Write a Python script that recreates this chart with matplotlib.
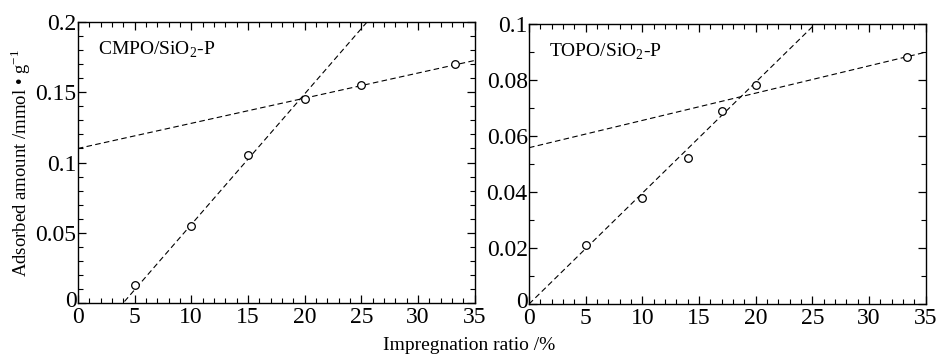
import numpy as np
import matplotlib
matplotlib.use('Agg')
import matplotlib.pyplot as plt
import matplotlib.transforms as mtrans
from matplotlib.ticker import MultipleLocator

plt.rcParams['font.family'] = ['Liberation Serif', 'DejaVu Serif']
plt.rcParams['mathtext.fontset'] = 'custom'
plt.rcParams['mathtext.rm'] = 'Liberation Serif'

# CMPO/SiO2-P data
cmpo_x = [5, 10, 15, 20, 25, 33.3]
cmpo_y = [0.013, 0.055, 0.105, 0.145, 0.155, 0.170]
# fitted lines (slope, intercept)
cmpo_lines = [(0.0093, -0.0372), (0.00179, 0.110)]

# TOPO/SiO2-P data
topo_x = [5, 10, 14, 17, 20, 33.3]
topo_y = [0.021, 0.038, 0.052, 0.069, 0.078, 0.088]
topo_lines = [(0.00396, 0.0), (0.000974, 0.0558)]

panels = [
    ("CMPO/SiO$_2$-P", cmpo_x, cmpo_y, cmpo_lines, 0.2, 0.05, 0.01, ['0', '0.05', '0.1', '0.15', '0.2']),
    ("TOPO/SiO$_2$-P", topo_x, topo_y, topo_lines, 0.1, 0.02, 0.01, ['0', '0.02', '0.04', '0.06', '0.08', '0.1']),
]

fig = plt.figure(figsize=(9.38, 3.56), dpi=100)
rects = [[0.083, 0.149, 0.423, 0.789], [0.564, 0.146, 0.423, 0.787]]

for rect, (name, xs, ys, lines, ymax, ymaj, ymin, ylabels) in zip(rects, panels):
    ax = fig.add_axes(rect)
    xx = np.linspace(0, 35, 200)
    for m, b in lines:
        ax.plot(xx, m * xx + b, color='black', lw=0.8, ls=(0, (5, 3)))
    ax.plot(xs, ys, 'o', mfc='white', mec='black', ms=5.5, mew=0.9, zorder=3)
    ax.set_xlim(0, 35)
    ax.set_ylim(0, ymax)
    ax.xaxis.set_major_locator(MultipleLocator(5))
    ax.xaxis.set_minor_locator(MultipleLocator(1))
    ax.yaxis.set_minor_locator(MultipleLocator(ymin))
    ax.set_yticks(np.arange(len(ylabels)) * ymaj)
    ax.set_yticklabels(ylabels)
    ax.tick_params(which='both', direction='in', top=True, right=True, labelsize=17, pad=1)
    ax.tick_params(axis='x', pad=3)
    ax.tick_params(which='major', length=6, width=0.9)
    ax.tick_params(which='minor', length=3.5, width=0.8)
    for s in ax.spines.values():
        s.set_linewidth(1.0)
    # nudge the two corner "0" labels apart a little
    y0 = ax.get_yticklabels()[0]
    y0.set_transform(y0.get_transform() + mtrans.ScaledTranslation(0, 3 / 72, fig.dpi_scale_trans))
    x0 = ax.get_xticklabels()[0]
    x0.set_transform(x0.get_transform() + mtrans.ScaledTranslation(2 / 72, 0, fig.dpi_scale_trans))
    ax.text(0.05, 0.90, name, transform=ax.transAxes, fontsize=14, va='center', ha='left')
    if name.startswith('CMPO'):
        ax.set_ylabel('Adsorbed amount /mmol \u2022 g$^{-1}$', fontsize=13.5, labelpad=2)

fig.text(0.5, 0.03, 'Impregnation ratio /%', fontsize=14, ha='center', va='center')

plt.savefig('out.png', dpi=100)
